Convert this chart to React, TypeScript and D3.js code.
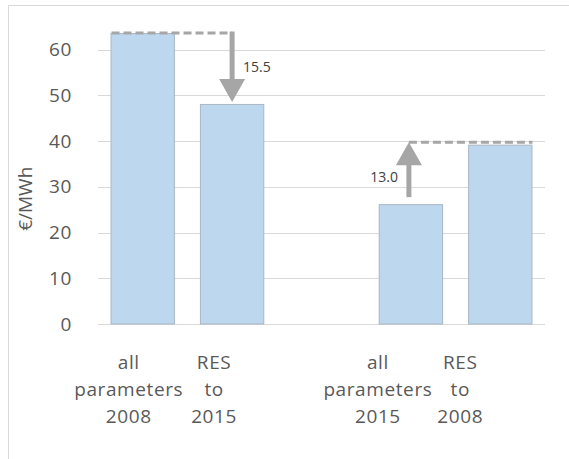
import React from "react";
import * as d3 from "d3";

const categories = ["c0", "c1", "gap", "c3", "c4"];
const categoryLabels: string[][] = [
  ["all", "parameters", "2008"],
  ["RES", "to", "2015"],
  [],
  ["all", "parameters", "2015"],
  ["RES", "to", "2008"],
];
const values: (number | null)[] = [63.6, 48.1, null, 26.2, 39.2];
const yTicks = [0, 10, 20, 30, 40, 50, 60];
const arrowDown = { from: 0, to: 1, label: "15.5" };
const arrowUp = { from: 3, to: 4, label: "13.0" };

const W = 569;
const H = 459;
const M = { left: 98, right: 24, top: 30, bottom: 135 };
const FONT = "'Open Sans', sans-serif";
const GRAY = "#a6a6a6";

export default function App() {
  const x = d3
    .scaleBand<string>()
    .domain(categories)
    .range([M.left, W - M.right])
    .paddingInner(0.28)
    .paddingOuter(0.14);
  const y = d3.scaleLinear().domain([0, 60]).range([H - M.bottom, H - M.bottom - 6 * 45.75]);
  const bw = x.bandwidth();
  const cx = (i: number) => (x(categories[i]) as number) + bw / 2;
  const labelDx = [-14, -18, 0, -33, -40];

  // arrow down
  const aX = cx(arrowDown.to);
  const aTop = y(values[arrowDown.from] as number);
  const aBot = y(values[arrowDown.to] as number) - 2;
  // arrow up
  const bX = cx(arrowUp.from) - 2;
  const bBot = y(values[arrowUp.from] as number) - 7;
  const bTop = y((values[arrowUp.from] as number) + 13.0 + 0.5);
  const headLen = 23;
  const headW = 13;

  return (
    <svg width={W} height={H} style={{ position: "absolute", left: 0, top: 0, background: "#fff" }}>
      <line x1={8.5} y1={5.5} x2={W} y2={5.5} stroke="#d9d9d9" />
      <line x1={8.5} y1={5.5} x2={8.5} y2={H} stroke="#d9d9d9" />
      {yTicks.map((t) => (
        <g key={t}>
          <line x1={M.left} x2={W - M.right} y1={Math.round(y(t)) + 0.5} y2={Math.round(y(t)) + 0.5} stroke="#d9d9d9" />
          <text x={72} y={y(t)} dy="0.35em" textAnchor="end" fontFamily={FONT} fontSize={19} letterSpacing={0.6} fill="#595959">
            {t}
          </text>
        </g>
      ))}
      <text
        transform={`translate(32, ${y(30) + 12}) rotate(-90)`}
        textAnchor="middle"
        fontFamily={FONT}
        fontSize={19}
        fill="#595959"
      >
        €/MWh
      </text>
      {values.map((v, i) =>
        v == null ? null : (
          <rect
            key={i}
            x={(x(categories[i]) as number) + 0.5}
            y={y(v) + 0.5}
            width={bw - 1}
            height={y(0) - y(v) - 0.5}
            fill="#bdd7ee"
            stroke="#a9b7c6"
          />
        )
      )}
      {categoryLabels.map((lines, i) => (
        <text key={i} textAnchor="middle" fontFamily={FONT} fontSize={19} letterSpacing={0.6} fill="#595959">
          {lines.map((l, j) => (
            <tspan key={j} x={cx(i) + labelDx[i]} y={y(0) + 45 + j * 27}>
              {l}
            </tspan>
          ))}
        </text>
      ))}
      {/* down arrow */}
      <path
        d={`M${(x(categories[arrowDown.from]) as number) + 1},${aTop} H${aX}`}
        stroke={GRAY}
        strokeWidth={3}
        strokeDasharray="8,4"
        fill="none"
      />
      <line x1={aX} x2={aX} y1={aTop - 1.5} y2={aBot - headLen + 1} stroke={GRAY} strokeWidth={5} />
      <path d={`M${aX - headW},${aBot - headLen} L${aX + headW},${aBot - headLen} L${aX},${aBot} Z`} fill={GRAY} />
      <text x={aX + 11} y={(aTop + aBot) / 2} dy="0.35em" fontFamily={FONT} fontSize={14} fill="#404040">
        {arrowDown.label}
      </text>
      {/* up arrow */}
      <path
        d={`M${bX},${bTop} H${(x(categories[arrowUp.to]) as number) + bw}`}
        stroke={GRAY}
        strokeWidth={3}
        strokeDasharray="8,4"
        fill="none"
      />
      <line x1={bX} x2={bX} y1={bBot} y2={bTop + headLen - 1} stroke={GRAY} strokeWidth={5} />
      <path d={`M${bX - headW},${bTop + headLen} L${bX + headW},${bTop + headLen} L${bX},${bTop} Z`} fill={GRAY} />
      <text x={bX - 11} y={y((values[arrowUp.from] as number) + 6.5) + 3} dy="0.35em" textAnchor="end" fontFamily={FONT} fontSize={14} fill="#404040">
        {arrowUp.label}
      </text>
    </svg>
  );
}
